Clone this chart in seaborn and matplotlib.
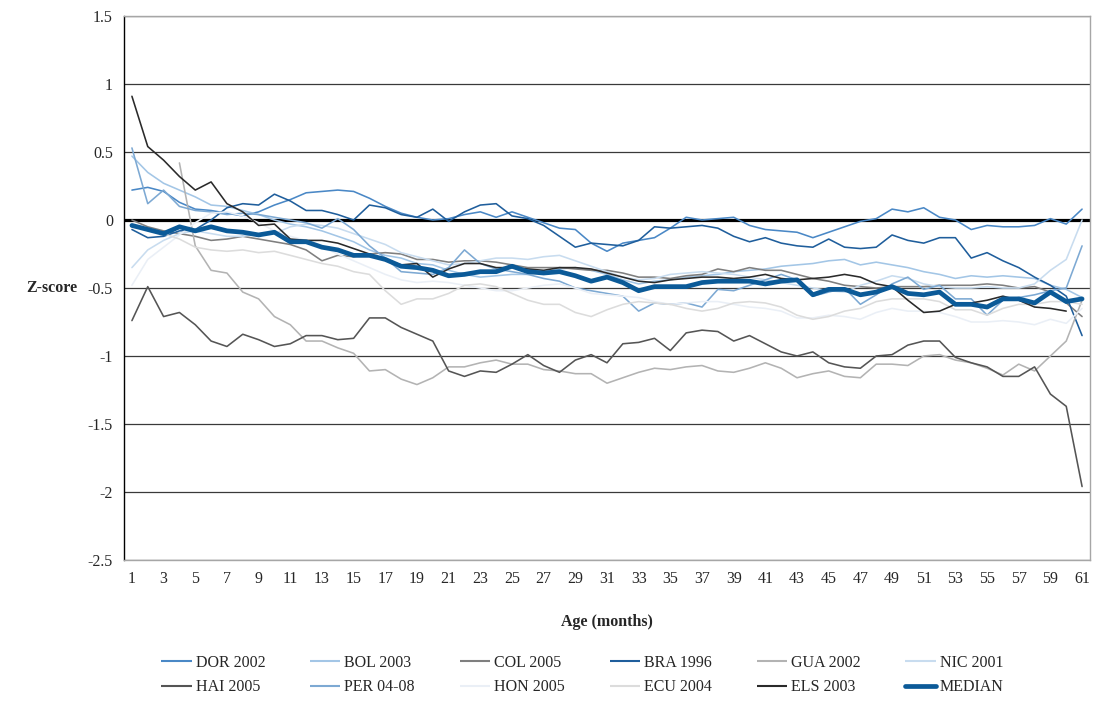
import numpy as np
import pandas as pd
import matplotlib
matplotlib.use("Agg")
import matplotlib.pyplot as plt
from matplotlib.lines import Line2D
import seaborn as sns

ages = list(range(1, 62))
nan = np.nan

dor = [0.22, 0.24, 0.21, 0.13, 0.08, 0.07, 0.05, 0.03, 0.06, 0.11, 0.15, 0.20, 0.21, 0.22, 0.21, 0.16,
       0.10, 0.05, 0.02, 0.00, 0.01, 0.04, 0.06, 0.02, 0.06, 0.02, -0.02, -0.06, -0.07, -0.17, -0.23,
       -0.17, -0.15, -0.13, -0.06, 0.02, 0.00, 0.01, 0.02, -0.04, -0.07, -0.08, -0.09, -0.13, -0.09,
       -0.05, -0.01, 0.01, 0.08, 0.06, 0.09, 0.02, 0.00, -0.07, -0.04, -0.05, -0.05, -0.04, 0.01, -0.03, 0.08]
bol = [0.47, 0.35, 0.27, 0.22, 0.17, 0.11, 0.10, 0.07, 0.04, 0.00, -0.03, -0.05, -0.08, -0.12, -0.16,
       -0.22, -0.26, -0.28, -0.32, -0.33, -0.37, -0.40, -0.42, -0.41, -0.40, -0.40, -0.38, -0.36, -0.35,
       -0.37, -0.40, -0.44, -0.47, -0.45, -0.44, -0.42, -0.41, -0.40, -0.38, -0.37, -0.36, -0.34, -0.33,
       -0.32, -0.30, -0.29, -0.33, -0.31, -0.33, -0.35, -0.38, -0.40, -0.43, -0.41, -0.42, -0.41, -0.42,
       -0.43, -0.48, -0.51, -0.57]
col = [0.00, -0.05, -0.08, -0.10, -0.12, -0.15, -0.14, -0.12, -0.14, -0.16, -0.18, -0.22, -0.30, -0.26,
       -0.27, -0.25, -0.24, -0.25, -0.29, -0.29, -0.31, -0.30, -0.30, -0.31, -0.33, -0.35, -0.35, -0.35,
       -0.36, -0.37, -0.37, -0.39, -0.42, -0.42, -0.43, -0.41, -0.40, -0.36, -0.38, -0.35, -0.37, -0.37,
       -0.40, -0.43, -0.45, -0.48, -0.49, -0.50, -0.49, -0.49, -0.49, -0.48, -0.48, -0.48, -0.47, -0.48,
       -0.50, -0.49, -0.53, -0.61, -0.71]
bra = [-0.07, -0.13, -0.12, -0.08, -0.07, 0.00, 0.09, 0.12, 0.11, 0.19, 0.14, 0.07, 0.07, 0.04, 0.00,
       0.11, 0.09, 0.04, 0.02, 0.08, -0.01, 0.06, 0.11, 0.12, 0.03, 0.01, -0.04, -0.12, -0.20, -0.17,
       -0.18, -0.19, -0.15, -0.05, -0.06, -0.05, -0.04, -0.06, -0.12, -0.16, -0.13, -0.17, -0.19, -0.20,
       -0.14, -0.20, -0.21, -0.20, -0.11, -0.15, -0.17, -0.13, -0.13, -0.28, -0.24, -0.30, -0.35, -0.42,
       -0.48, -0.56, -0.85]
gua = [nan, nan, nan, 0.42, -0.19, -0.37, -0.39, -0.53, -0.58, -0.71, -0.77, -0.89, -0.89, -0.94, -0.98,
       -1.11, -1.10, -1.17, -1.21, -1.16, -1.08, -1.08, -1.05, -1.03, -1.06, -1.06, -1.10, -1.11, -1.13,
       -1.13, -1.20, -1.16, -1.12, -1.09, -1.10, -1.08, -1.07, -1.11, -1.12, -1.09, -1.05, -1.09, -1.16,
       -1.13, -1.11, -1.15, -1.16, -1.06, -1.06, -1.07, -1.00, -0.99, -1.03, -1.05, -1.09, -1.14, -1.06,
       -1.11, -1.00, -0.89, -0.59]
nic = [-0.35, -0.22, -0.15, -0.10, -0.08, -0.10, -0.12, -0.12, -0.10, -0.10, -0.05, -0.03, -0.04, -0.06,
       -0.10, -0.14, -0.18, -0.24, -0.27, -0.30, -0.33, -0.32, -0.30, -0.28, -0.28, -0.29, -0.27, -0.26,
       -0.30, -0.34, -0.38, -0.42, -0.44, -0.43, -0.40, -0.39, -0.38, -0.39, -0.40, -0.42, -0.44, -0.46,
       -0.48, -0.50, -0.52, -0.53, -0.48, -0.45, -0.41, -0.43, -0.47, -0.49, -0.50, -0.50, -0.49, -0.50,
       -0.50, -0.47, -0.37, -0.29, 0.00]
hai = [-0.74, -0.49, -0.71, -0.68, -0.77, -0.89, -0.93, -0.84, -0.88, -0.93, -0.91, -0.85, -0.85, -0.88,
       -0.87, -0.72, -0.72, -0.79, -0.84, -0.89, -1.11, -1.15, -1.11, -1.12, -1.06, -0.99, -1.07, -1.12,
       -1.03, -0.99, -1.05, -0.91, -0.90, -0.87, -0.96, -0.83, -0.81, -0.82, -0.89, -0.85, -0.91, -0.97,
       -1.00, -0.97, -1.05, -1.08, -1.09, -1.00, -0.99, -0.92, -0.89, -0.89, -1.01, -1.05, -1.08, -1.15,
       -1.15, -1.08, -1.28, -1.37, -1.96]
per = [0.53, 0.12, 0.22, 0.10, 0.07, 0.06, 0.04, 0.05, 0.04, 0.02, 0.00, -0.02, -0.06, 0.01, -0.07,
       -0.19, -0.28, -0.38, -0.39, -0.40, -0.35, -0.22, -0.32, -0.36, -0.38, -0.40, -0.43, -0.45, -0.50,
       -0.52, -0.54, -0.56, -0.67, -0.61, -0.62, -0.61, -0.64, -0.51, -0.52, -0.48, -0.44, -0.40, -0.44,
       -0.56, -0.53, -0.50, -0.62, -0.55, -0.47, -0.42, -0.51, -0.48, -0.58, -0.58, -0.70, -0.59, -0.57,
       -0.55, -0.52, -0.50, -0.19]
hon = [-0.48, -0.29, -0.20, -0.11, -0.02, 0.05, 0.06, 0.03, -0.02, -0.08, -0.12, -0.15, -0.20, -0.25,
       -0.30, -0.35, -0.40, -0.44, -0.46, -0.45, -0.46, -0.48, -0.50, -0.52, -0.52, -0.50, -0.48, -0.47,
       -0.50, -0.54, -0.55, -0.56, -0.57, -0.60, -0.62, -0.61, -0.60, -0.60, -0.62, -0.64, -0.65, -0.67,
       -0.72, -0.72, -0.70, -0.71, -0.73, -0.68, -0.65, -0.67, -0.67, -0.68, -0.71, -0.75, -0.75, -0.74,
       -0.75, -0.77, -0.73, -0.76, -0.65]
ecu = [-0.05, -0.07, -0.10, -0.14, -0.20, -0.22, -0.23, -0.22, -0.24, -0.23, -0.26, -0.29, -0.32, -0.34,
       -0.38, -0.40, -0.52, -0.62, -0.58, -0.58, -0.54, -0.48, -0.47, -0.49, -0.54, -0.59, -0.62, -0.62,
       -0.68, -0.71, -0.66, -0.62, -0.60, -0.61, -0.62, -0.65, -0.67, -0.65, -0.61, -0.60, -0.61, -0.64,
       -0.70, -0.73, -0.71, -0.67, -0.65, -0.60, -0.58, -0.58, -0.58, -0.60, -0.66, -0.66, -0.70, -0.65,
       -0.62, -0.62, -0.60, -0.60, -0.62]
els = [0.91, 0.54, 0.44, 0.32, 0.22, 0.28, 0.12, 0.06, -0.04, -0.03, -0.14, -0.15, -0.15, -0.17, -0.21,
       -0.25, -0.29, -0.33, -0.32, -0.42, -0.36, -0.32, -0.32, -0.35, -0.35, -0.36, -0.37, -0.35, -0.35,
       -0.36, -0.39, -0.42, -0.45, -0.46, -0.44, -0.43, -0.42, -0.42, -0.43, -0.42, -0.40, -0.43, -0.44,
       -0.43, -0.42, -0.40, -0.42, -0.47, -0.49, -0.59, -0.68, -0.67, -0.62, -0.61, -0.59, -0.56, -0.59,
       -0.64, -0.65, -0.67, nan]
median = [-0.04, -0.07, -0.10, -0.05, -0.08, -0.05, -0.08, -0.09, -0.11, -0.09, -0.16, -0.16, -0.20,
          -0.22, -0.26, -0.26, -0.29, -0.34, -0.35, -0.37, -0.41, -0.40, -0.38, -0.38, -0.34, -0.38,
          -0.39, -0.38, -0.41, -0.45, -0.42, -0.46, -0.52, -0.49, -0.49, -0.49, -0.46, -0.45, -0.45,
          -0.45, -0.47, -0.45, -0.44, -0.55, -0.51, -0.51, -0.55, -0.53, -0.49, -0.54, -0.55, -0.53,
          -0.62, -0.62, -0.64, -0.58, -0.58, -0.61, -0.53, -0.60, -0.58]

series_names = ["DOR 2002", "BOL 2003", "COL 2005", "BRA 1996", "GUA 2002", "NIC 2001",
                "HAI 2005", "PER 04-08", "HON 2005", "ECU 2004", "ELS 2003", "MEDIAN"]
series_values = [dor, bol, col, bra, gua, nic, hai, per, hon, ecu, els, median]

colors = {"DOR 2002": "#4a88c6", "BOL 2003": "#a3c6e6", "COL 2005": "#7f7f7f", "BRA 1996": "#1f5e9c",
          "GUA 2002": "#b3b3b3", "NIC 2001": "#c8dcef", "HAI 2005": "#555555", "PER 04-08": "#7da9d3",
          "HON 2005": "#eaeff6", "ECU 2004": "#dcdcdc", "ELS 2003": "#2a2a2a", "MEDIAN": "#0b5a98"}
widths = {n: 1.15 for n in series_names}
widths["MEDIAN"] = 3.4

rows = []
for name, vals in zip(series_names, series_values):
    for a, v in zip(ages, vals):
        if not np.isnan(v):
            rows.append({"Age": a, "Z": v, "Series": name})
df = pd.DataFrame(rows)

sns.set_style("white")
plt.rcParams["font.family"] = ["Liberation Serif", "DejaVu Serif"]

fig = plt.figure(figsize=(10.96, 7.05), dpi=100)
ax = fig.add_axes([124 / 1096, 1 - 560 / 705, (1090 - 124) / 1096, (560 - 16) / 705])

yt = [1.5, 1, 0.5, 0, -0.5, -1, -1.5, -2, -2.5]
for y in yt:
    if y != 0:
        ax.axhline(y, color="#3a3a3a", lw=0.9, zorder=0)
ax.axhline(0, color="black", lw=2.3, zorder=0.5)

sns.lineplot(data=df, x="Age", y="Z", hue="Series", size="Series", hue_order=series_names,
             palette=colors, sizes=widths, size_order=series_names, estimator=None, sort=True,
             legend=False, ax=ax)

ax.set_xlim(0.5, 61.5)
ax.set_ylim(-2.5, 1.5)
ax.set_yticks(yt)
ax.set_yticklabels([("%g" % y).replace("\u2212", "-") for y in yt], fontsize=11.5)
ax.set_xticks(list(range(1, 62, 2)))
ax.set_xticklabels([str(a) for a in range(1, 62, 2)], fontsize=11.5)
ax.tick_params(axis="x", length=0, pad=8)
ax.tick_params(axis="y", length=4, width=0.9, color="black", direction="out", pad=4)
ax.set_xlabel("")
ax.set_ylabel("")
for s in ["top", "right", "bottom"]:
    ax.spines[s].set_color("#a6a6a6")
    ax.spines[s].set_linewidth(1.0)
ax.spines["left"].set_color("black")
ax.spines["left"].set_linewidth(1.0)

fig.text(52 / 1096, 1 - 288 / 705, "Z-score", fontsize=11.5, fontweight="bold", ha="center", va="center")
fig.text(607 / 1096, 1 - 622 / 705, "Age (months)", fontsize=11.5, fontweight="bold", ha="center", va="center")

# legend reads row-wise in the reference; matplotlib fills columns first
ncol = 6
order = []
for c in range(ncol):
    order += [c, c + ncol]
handles = [Line2D([0], [0], color=colors[n], lw=widths[n] * (1.3 if n != "MEDIAN" else 1.0),
                  solid_capstyle="round" if n == "MEDIAN" else "butt") for n in series_names]
fig.legend([handles[i] for i in order], [series_names[i] for i in order], loc="center", ncol=ncol,
           frameon=False, fontsize=11.5,
           bbox_to_anchor=(155 / 1096, 1 - 700 / 705, 855 / 1096, 50 / 705), mode="expand",
           handlelength=1.9, handletextpad=0.25, columnspacing=1.0, labelspacing=0.55,
           borderaxespad=0)

fig.savefig("out.png", dpi=100)
